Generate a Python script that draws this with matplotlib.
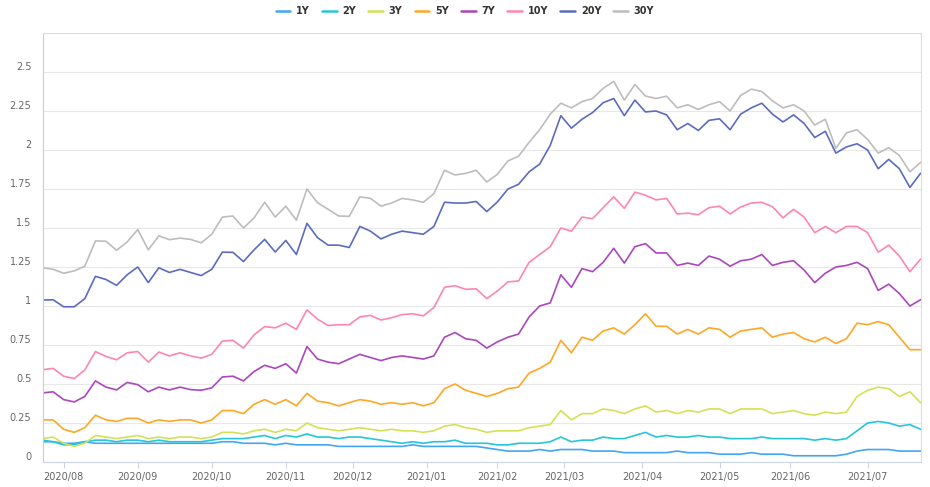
import matplotlib
matplotlib.use("Agg")
import matplotlib.pyplot as plt
import numpy as np

# trading-day index, one sample every 3 sessions (2020-07-24 .. 2021-07-22)
days = np.arange(0, 250, 3)

tick_pos = [6, 27, 48, 69, 88, 109, 129, 148, 170, 192, 212, 234]
tick_labels = ["2020/08", "2020/09", "2020/10", "2020/11", "2020/12", "2021/01",
               "2021/02", "2021/03", "2021/04", "2021/05", "2021/06", "2021/07"]

y1 = [0.13, 0.13, 0.12, 0.12, 0.13, 0.12, 0.12, 0.12, 0.12, 0.12, 0.12, 0.12,
      0.12, 0.12, 0.12, 0.12, 0.12, 0.13, 0.13, 0.12, 0.12, 0.12, 0.11, 0.12,
      0.11, 0.11, 0.11, 0.11, 0.10, 0.10, 0.10, 0.10, 0.10, 0.10, 0.10, 0.11,
      0.10, 0.10, 0.10, 0.10, 0.10, 0.10, 0.09, 0.08, 0.07, 0.07, 0.07, 0.08,
      0.07, 0.08, 0.08, 0.08, 0.07, 0.07, 0.07, 0.06, 0.06, 0.06, 0.06, 0.06,
      0.07, 0.06, 0.06, 0.06, 0.05, 0.05, 0.05, 0.06, 0.05, 0.05, 0.05, 0.04,
      0.04, 0.04, 0.04, 0.04, 0.05, 0.07, 0.08, 0.08, 0.08, 0.07, 0.07, 0.07]
y2 = [0.14, 0.13, 0.11, 0.11, 0.13, 0.14, 0.14, 0.13, 0.14, 0.14, 0.13, 0.14,
      0.13, 0.13, 0.13, 0.13, 0.14, 0.15, 0.15, 0.15, 0.16, 0.17, 0.15, 0.17,
      0.16, 0.18, 0.16, 0.16, 0.15, 0.16, 0.16, 0.15, 0.14, 0.13, 0.12, 0.13,
      0.12, 0.13, 0.13, 0.14, 0.12, 0.12, 0.12, 0.11, 0.11, 0.12, 0.12, 0.12,
      0.13, 0.16, 0.13, 0.14, 0.14, 0.16, 0.15, 0.15, 0.17, 0.19, 0.16, 0.17,
      0.16, 0.16, 0.17, 0.16, 0.16, 0.15, 0.15, 0.15, 0.16, 0.15, 0.15, 0.15,
      0.15, 0.14, 0.15, 0.14, 0.15, 0.20, 0.25, 0.26, 0.25, 0.23, 0.24, 0.21]
y3 = [0.15, 0.16, 0.12, 0.10, 0.12, 0.17, 0.16, 0.15, 0.16, 0.17, 0.15, 0.16,
      0.15, 0.16, 0.16, 0.15, 0.16, 0.19, 0.19, 0.18, 0.20, 0.21, 0.19, 0.21,
      0.20, 0.25, 0.22, 0.21, 0.20, 0.21, 0.22, 0.21, 0.20, 0.21, 0.20, 0.20,
      0.19, 0.20, 0.23, 0.24, 0.22, 0.21, 0.19, 0.20, 0.20, 0.20, 0.22, 0.23,
      0.24, 0.33, 0.27, 0.31, 0.31, 0.34, 0.33, 0.31, 0.34, 0.36, 0.32, 0.33,
      0.31, 0.33, 0.32, 0.34, 0.34, 0.31, 0.34, 0.34, 0.34, 0.31, 0.32, 0.33,
      0.31, 0.30, 0.32, 0.31, 0.32, 0.42, 0.46, 0.48, 0.47, 0.42, 0.45, 0.38]
y5 = [0.27, 0.27, 0.21, 0.19, 0.22, 0.30, 0.27, 0.26, 0.28, 0.28, 0.25, 0.27,
      0.26, 0.27, 0.27, 0.25, 0.27, 0.33, 0.33, 0.31, 0.37, 0.40, 0.37, 0.40,
      0.36, 0.44, 0.39, 0.38, 0.36, 0.38, 0.40, 0.39, 0.37, 0.38, 0.37, 0.38,
      0.36, 0.38, 0.47, 0.50, 0.46, 0.44, 0.42, 0.44, 0.47, 0.48, 0.57, 0.60,
      0.64, 0.78, 0.70, 0.80, 0.78, 0.84, 0.86, 0.82, 0.88, 0.95, 0.87, 0.87,
      0.82, 0.85, 0.82, 0.86, 0.85, 0.80, 0.84, 0.85, 0.86, 0.80, 0.82, 0.83,
      0.79, 0.77, 0.80, 0.76, 0.79, 0.89, 0.88, 0.90, 0.88, 0.80, 0.72, 0.72]
y7 = [0.443, 0.45, 0.40, 0.385, 0.42, 0.52, 0.48, 0.462, 0.51, 0.496, 0.45, 0.48,
      0.462, 0.48, 0.464, 0.46, 0.475, 0.545, 0.55, 0.52, 0.58, 0.62, 0.60, 0.63,
      0.57, 0.74, 0.66, 0.64, 0.63, 0.66, 0.69, 0.67, 0.65, 0.67, 0.68, 0.67,
      0.66, 0.68, 0.80, 0.83, 0.79, 0.78, 0.73, 0.77, 0.80, 0.82, 0.93, 1.00,
      1.02, 1.20, 1.12, 1.24, 1.22, 1.28, 1.37, 1.275, 1.38, 1.40, 1.34, 1.34,
      1.26, 1.275, 1.26, 1.32, 1.30, 1.255, 1.29, 1.30, 1.33, 1.26, 1.28, 1.29,
      1.23, 1.15, 1.21, 1.25, 1.26, 1.28, 1.24, 1.10, 1.14, 1.08, 1.00, 1.04]
y10 = [0.591, 0.60, 0.55, 0.535, 0.59, 0.708, 0.677, 0.655, 0.70, 0.708, 0.64, 0.705,
       0.68, 0.70, 0.68, 0.666, 0.69, 0.775, 0.78, 0.73, 0.815, 0.868, 0.86, 0.89,
       0.85, 0.975, 0.915, 0.875, 0.88, 0.88, 0.93, 0.94, 0.91, 0.925, 0.945, 0.95,
       0.937, 0.99, 1.12, 1.13, 1.107, 1.11, 1.047, 1.096, 1.155, 1.16, 1.28, 1.33,
       1.38, 1.50, 1.48, 1.57, 1.56, 1.63, 1.70, 1.626, 1.73, 1.71, 1.68, 1.69,
       1.59, 1.595, 1.585, 1.63, 1.64, 1.59, 1.635, 1.66, 1.665, 1.637, 1.565, 1.62,
       1.57, 1.47, 1.51, 1.47, 1.51, 1.51, 1.47, 1.345, 1.39, 1.32, 1.22, 1.30]
y20 = [1.038, 1.04, 0.995, 0.995, 1.047, 1.19, 1.17, 1.132, 1.20, 1.25, 1.15, 1.245,
       1.215, 1.235, 1.215, 1.195, 1.235, 1.345, 1.344, 1.285, 1.36, 1.427, 1.346, 1.42,
       1.33, 1.53, 1.438, 1.39, 1.39, 1.375, 1.51, 1.48, 1.43, 1.46, 1.48, 1.47,
       1.46, 1.51, 1.665, 1.66, 1.66, 1.67, 1.605, 1.667, 1.75, 1.78, 1.86, 1.91,
       2.03, 2.22, 2.14, 2.197, 2.24, 2.303, 2.33, 2.22, 2.32, 2.244, 2.25, 2.225,
       2.13, 2.17, 2.125, 2.19, 2.20, 2.13, 2.23, 2.27, 2.30, 2.23, 2.18, 2.225,
       2.17, 2.08, 2.12, 1.98, 2.02, 2.04, 2.00, 1.88, 1.94, 1.88, 1.76, 1.85]
y30 = [1.246, 1.235, 1.21, 1.225, 1.255, 1.417, 1.415, 1.357, 1.41, 1.49, 1.36, 1.45,
       1.425, 1.435, 1.427, 1.405, 1.46, 1.57, 1.577, 1.50, 1.565, 1.665, 1.57, 1.64,
       1.55, 1.75, 1.662, 1.62, 1.577, 1.575, 1.70, 1.69, 1.64, 1.66, 1.69, 1.68,
       1.665, 1.72, 1.87, 1.84, 1.85, 1.87, 1.795, 1.844, 1.93, 1.96, 2.05, 2.13,
       2.23, 2.30, 2.27, 2.31, 2.33, 2.395, 2.44, 2.32, 2.42, 2.346, 2.33, 2.345,
       2.27, 2.29, 2.26, 2.29, 2.31, 2.25, 2.35, 2.39, 2.375, 2.315, 2.27, 2.29,
       2.25, 2.16, 2.197, 2.01, 2.11, 2.13, 2.068, 1.98, 2.015, 1.965, 1.86, 1.92]

names = ["1Y", "2Y", "3Y", "5Y", "7Y", "10Y", "20Y", "30Y"]
series = [y1, y2, y3, y5, y7, y10, y20, y30]
colors = ["#42a5f5", "#26c6da", "#d4e157", "#ffa726", "#ab47bc", "#ff85b3", "#5c6bc0", "#bdbdbd"]

fig = plt.figure(figsize=(9.3, 4.87), dpi=100)
ax = fig.add_axes([42.5 / 930, 1 - 462 / 487, (920.5 - 42.5) / 930, (462 - 33) / 487])

for name, vals, col in zip(names, series, colors):
    ax.plot(days, vals, color=col, lw=1.2, label=name)

ax.set_xlim(0, 249)
ax.set_ylim(0, 2.75)
yt = [0, 0.25, 0.5, 0.75, 1, 1.25, 1.5, 1.75, 2, 2.25, 2.5]
ax.set_yticks(yt + [2.75])
ax.set_yticklabels(["0", "0.25", "0.5", "0.75", "1", "1.25", "1.5", "1.75", "2", "2.25", "2.5", ""])
for lab in ax.get_yticklabels():
    lab.set_verticalalignment("bottom")
ax.tick_params(axis="y", length=0, pad=8, labelsize=7, labelcolor="#666666")
ax.set_xticks(tick_pos)
ax.set_xticklabels(tick_labels)
ax.tick_params(axis="x", length=4.5, width=0.8, color="#ccd6eb", pad=2.5,
               labelsize=7, labelcolor="#666666")
ax.grid(axis="y", color="#e8e8e8", lw=0.8)
ax.set_axisbelow(True)

for s in ["top", "right"]:
    ax.spines[s].set_color("#dddddd")
    ax.spines[s].set_linewidth(0.8)
ax.spines["left"].set_color("#cccccc")
ax.spines["left"].set_linewidth(0.8)
ax.spines["bottom"].set_color("#ccd6eb")
ax.spines["bottom"].set_linewidth(0.8)

leg = fig.legend(loc="upper center", bbox_to_anchor=(0.5, 1.005), ncol=8, frameon=False,
                 handlelength=1.5, handletextpad=0.6, columnspacing=1.25,
                 prop={"size": 7, "weight": "bold"})
for t in leg.get_texts():
    t.set_color("#333333")
for h in leg.get_lines():
    h.set_linewidth(1.8)
    h.set_solid_capstyle("round")

fig.savefig("out.png", dpi=100)
